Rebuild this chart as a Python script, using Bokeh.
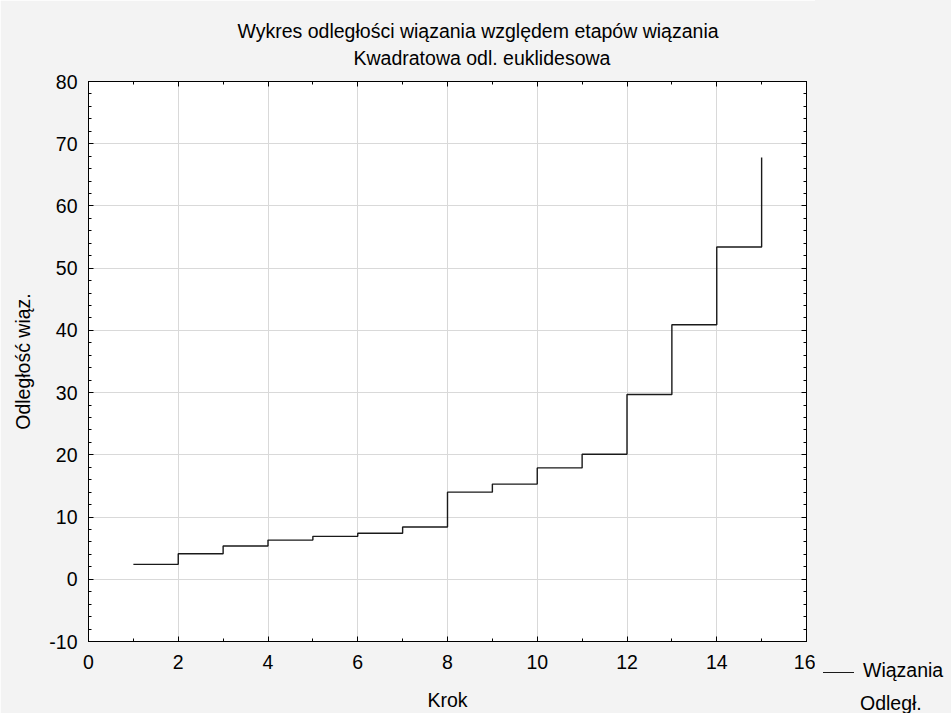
from bokeh.plotting import figure
from bokeh.models import Range1d, SingleIntervalTicker, LinearAxis, Title, Div
from bokeh.layouts import row
from bokeh.embed import file_html
from bokeh.resources import INLINE

# Data
steps = [1, 2, 3, 4, 5, 6, 7, 8, 9, 10, 11, 12, 13, 14, 15]
distances = [2.4, 4.1, 5.35, 6.3, 6.9, 7.4, 8.4, 14.0, 15.3, 17.9, 20.1, 29.7, 40.9, 53.4, 67.8]

title_line1 = "Wykres odległości wiązania względem etapów wiązania"
title_line2 = "Kwadratowa odl. euklidesowa"
x_label = "Krok"
y_label = "Odległość wiąz."
legend_line1 = "Wiązania"
legend_line2 = "Odległ."
y_tick_overrides = {-10: "-10"}

FONT = "Liberation Sans"
FS = "19.5px"
BG = "#f3f3f3"
LINE = "#1a1a1a"

H = 713
p = figure(width=815, height=H, output_backend="svg", toolbar_location=None,
           x_range=Range1d(0, 16), y_range=Range1d(-10, 80),
           min_border_left=88, min_border_right=9, min_border_top=81, min_border_bottom=71)
p.title = None

p.border_fill_color = BG
p.background_fill_color = "white"
p.outline_line_color = "black"
p.outline_line_width = 1

xt = SingleIntervalTicker(interval=2, num_minor_ticks=2)
yt = SingleIntervalTicker(interval=10, num_minor_ticks=5)

def style_axis(ax, labels=True):
    ax.axis_line_color = "black"
    ax.major_tick_line_color = "black"
    ax.minor_tick_line_color = "black"
    ax.major_tick_in = 5
    ax.major_tick_out = 0
    ax.minor_tick_in = 3
    ax.minor_tick_out = 0
    ax.major_label_text_font = FONT
    if labels:
        ax.major_label_text_font_size = FS
        ax.major_label_text_color = "black"
    else:
        ax.major_label_text_font_size = "1px"
        ax.major_label_text_color = None
        ax.major_label_standoff = 0
    ax.axis_label_text_font = FONT
    ax.axis_label_text_font_size = FS
    ax.axis_label_text_font_style = "normal"
    ax.axis_label_text_color = "black"

p.xaxis.ticker = xt
p.yaxis.ticker = yt
p.xaxis.axis_label = x_label
p.yaxis.axis_label = y_label
style_axis(p.xaxis[0])
style_axis(p.yaxis[0])
p.yaxis.major_label_overrides = y_tick_overrides
p.xaxis.major_label_standoff = 13
p.xaxis.axis_label_standoff = 17
p.yaxis.major_label_standoff = 11
p.yaxis.axis_label_standoff = 12

top_ax = LinearAxis(ticker=SingleIntervalTicker(interval=2, num_minor_ticks=2))
right_ax = LinearAxis(ticker=SingleIntervalTicker(interval=10, num_minor_ticks=5))
style_axis(top_ax, labels=False)
style_axis(right_ax, labels=False)
p.add_layout(top_ax, "above")
p.add_layout(right_ax, "right")

p.add_layout(Title(text=title_line2, align="left", offset=265, text_font=FONT, text_font_size=FS,
                   text_font_style="normal", text_color="black", standoff=25), "above")
p.add_layout(Title(text=title_line1, align="left", offset=149, text_font=FONT, text_font_size=FS,
                   text_font_style="normal", text_color="black", standoff=-18), "above")

p.xgrid.ticker = xt
p.ygrid.ticker = yt
p.xgrid.grid_line_color = "#d9d9d9"
p.ygrid.grid_line_color = "#d9d9d9"
p.xgrid.grid_line_width = 1
p.ygrid.grid_line_width = 1

p.step(steps, distances, mode="after", line_color=LINE, line_width=1.4)

# Legend panel outside the plot frame (bottom right, as in the reference)
legend_html = (
    f'<div style="position:relative;width:136px;height:{H}px;overflow:hidden;'
    f'background:{BG};font-family:\'{FONT}\';font-size:{FS};color:black;">'
    f'<div style="position:absolute;left:8px;top:672px;width:31px;height:0;'
    f'border-top:1.4px solid {LINE};"></div>'
    f'<div style="position:absolute;left:48px;top:659px;line-height:22px;white-space:nowrap;">{legend_line1}</div>'
    f'<div style="position:absolute;left:45px;top:692px;line-height:22px;white-space:nowrap;">{legend_line2}</div>'
    '</div>'
)
legend_div = Div(text=legend_html, width=136, height=H, margin=0,
                 styles={"background-color": BG})

open("out.html", "w").write(file_html(row(p, legend_div), INLINE))
